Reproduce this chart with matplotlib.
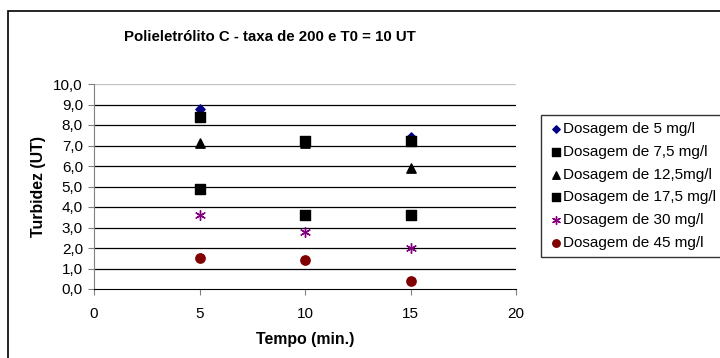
import matplotlib.pyplot as plt
from matplotlib.patches import Rectangle

plt.rcParams['font.family'] = ['Liberation Sans', 'DejaVu Sans']

tempo = [5, 10, 15]
dose_5 = [8.8, 7.2, 7.4]
dose_7_5 = [8.4, 7.2, 7.2]
dose_12_5 = [7.1, 7.1, 5.9]
dose_17_5 = [4.9, 3.6, 3.6]
dose_30 = [3.6, 2.8, 2.0]
dose_45 = [1.5, 1.4, 0.4]

labels = ['Dosagem de 5 mg/l', 'Dosagem de 7,5 mg/l', 'Dosagem de 12,5mg/l',
          'Dosagem de 17,5 mg/l', 'Dosagem de 30 mg/l', 'Dosagem de 45 mg/l']
yticks = [0, 1, 2, 3, 4, 5, 6, 7, 8, 9, 10]
xticks = [0, 5, 10, 15, 20]

fig = plt.figure(figsize=(7.2, 3.58), dpi=100)
# outer chart border
fig.patches.append(Rectangle((8 / 720, -0.05), 720, 1 - 11 / 358 + 0.05, transform=fig.transFigure,
                             fill=False, edgecolor='black', linewidth=1.2))
ax = fig.add_axes([94 / 720, 1 - 289 / 358, 422 / 720, 205 / 358])

series = [dose_5, dose_7_5, dose_12_5, dose_17_5, dose_30, dose_45]
styles = [dict(marker='D', color='#000080', s=22),
          dict(marker='s', color='black', s=45),
          dict(marker='^', color='black', s=45),
          dict(marker='s', color='black', s=45),
          dict(marker=(6, 2, 0), color='#800080', s=50, linewidths=1.0),
          dict(marker='o', color='#800000', s=45)]
for ys, lab, st in zip(series, labels, styles):
    ax.scatter(tempo, ys, label=lab, zorder=3, clip_on=False, **st)

ax.set_xlim(0, 20)
ax.set_ylim(0, 10)
ax.set_xticks(xticks)
ax.set_yticks(yticks)
ax.set_yticklabels([f'{v:.1f}'.replace('.', ',') for v in yticks])
for y in yticks[1:]:
    ax.axhline(y, color='#c0c0c0' if y == 10 else 'black', linewidth=0.9, zorder=1)
for s in ['top', 'right']:
    ax.spines[s].set_visible(False)
ax.spines['left'].set_color('#808080')
ax.spines['bottom'].set_color('black')
ax.tick_params(axis='both', labelsize=11, length=4, color='#808080')
ax.tick_params(axis='y', pad=4)
ax.tick_params(axis='x', pad=9)

ax.set_xlabel('Tempo (min.)', fontsize=11.4, fontweight='bold', labelpad=8)
ax.set_ylabel('Turbidez (UT)', fontsize=11.4, fontweight='bold', labelpad=5)
fig.text(270 / 720, 1 - 37 / 358, 'Polieletrólito C - taxa de 200 e T0 = 10 UT',
         ha='center', va='center', fontsize=10.8, fontweight='bold')

leg = fig.legend(loc='upper left', bbox_to_anchor=(541 / 720, 1 - 115 / 358), fontsize=11,
                 frameon=True, fancybox=False, edgecolor='black', handletextpad=0.0,
                 handlelength=1.0, borderpad=0.45, labelspacing=0.58, borderaxespad=0,
                 markerscale=0.8)
leg.get_frame().set_linewidth(1.0)

fig.savefig('out.png', dpi=100)
